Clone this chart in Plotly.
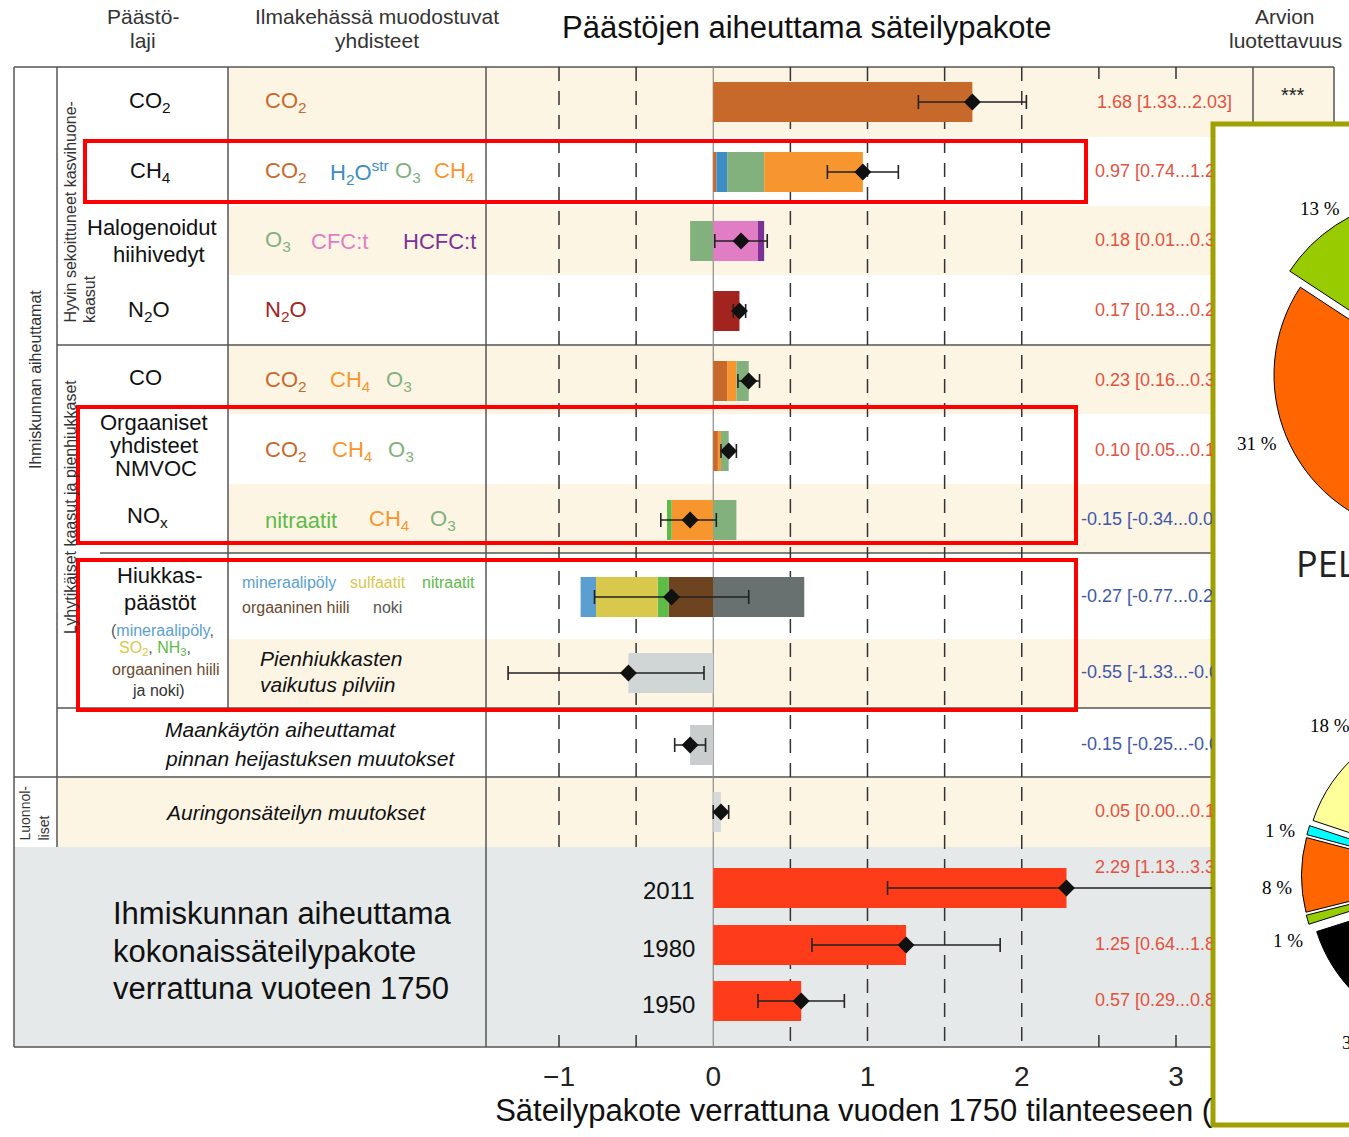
import plotly.graph_objects as go

# ---------------- data ----------------
row_keys = ["CO2", "CH4", "HALO", "N2O", "CO", "NMVOC", "NOX",
            "AEROSOL", "CLOUD", "ALBEDO", "SOLAR", "Y2011", "Y1980", "Y1950"]
forcing_best = [1.68, 0.97, 0.18, 0.17, 0.23, 0.10, -0.15,
                -0.27, -0.55, -0.15, 0.05, 2.29, 1.25, 0.57]
forcing_low = [1.33, 0.74, 0.01, 0.13, 0.16, 0.05, -0.34,
               -0.77, -1.33, -0.25, 0.00, 1.13, 0.64, 0.29]
forcing_high = [2.03, 1.20, 0.35, 0.21, 0.30, 0.15, 0.02,
                0.23, -0.06, -0.05, 0.10, 3.33, 1.86, 0.85]
confidence = ["***"]

# contributions of each compound, listed outward from zero
seg_row = ["CO2",
           "CH4", "CH4", "CH4", "CH4",
           "HALO", "HALO", "HALO",
           "N2O",
           "CO", "CO", "CO",
           "NMVOC", "NMVOC", "NMVOC",
           "NOX", "NOX", "NOX",
           "AEROSOL", "AEROSOL", "AEROSOL", "AEROSOL", "AEROSOL",
           "CLOUD", "ALBEDO", "SOLAR", "Y2011", "Y1980", "Y1950"]
seg_kind = ["co2",
            "co2", "h2o", "o3", "ch4",
            "o3", "cfc", "hcfc",
            "n2o",
            "co2", "ch4", "o3",
            "co2", "ch4", "o3",
            "ch4", "nitrate", "o3",
            "bc", "oc", "nitrate", "sulfate", "dust",
            "cloud", "albedo", "solar", "total", "total", "total"]
seg_value = [1.68,
             0.02, 0.07, 0.24, 0.64,
             -0.15, 0.29, 0.04,
             0.17,
             0.09, 0.06, 0.08,
             0.03, 0.02, 0.05,
             -0.27, -0.03, 0.15,
             0.59, -0.29, -0.07, -0.40, -0.10,
             -0.55, -0.15, 0.05, 2.29, 1.25, 0.57]

year_labels = ["2011", "1980", "1950"]

# pie charts in the inset panel (percent shares)
pie_top_labels = ["vihreä", "oranssi", "muut"]
pie_top_values = [13, 31, 56]
pie_bottom_labels = ["keltainen", "turkoosi", "oranssi", "vihreä", "musta", "muut"]
pie_bottom_values = [18, 1, 8, 1, 33, 39]

# ---------------- styling / geometry ----------------
W, H = 1640, 1137
X0_PX, UNIT_PX = 713.25, 154.25      # pixel of 0 W/m2 and pixels per W/m2
AX_RIGHT = 1212                       # right edge of the forcing plot area
FONT = "Liberation Sans, Arial, sans-serif"
SERIF = "Liberation Serif, Times New Roman, serif"

ROW_Y = dict(CO2=102, CH4=172, HALO=241, N2O=311, CO=381, NMVOC=451, NOX=520,
             AEROSOL=597, CLOUD=673, ALBEDO=745, SOLAR=812,
             Y2011=888, Y1980=945, Y1950=1001)
LABEL_Y = dict(ROW_Y, Y2011=868)

COLORS = dict(co2="#C8692C", h2o="#3C8DC4", o3="#82B17E", ch4="#F7962F",
              cfc="#E17DC4", hcfc="#7D3196", n2o="#A3231F",
              nitrate="#5DBB47", bc="#687170", oc="#6E4420",
              sulfate="#D8C84C", dust="#5A9FD0",
              cloud="#D0D5D6", albedo="#C9CDCD", solar="#D6DADA",
              total="#FF3C1A")
CREAM = "#FDF5E4"
GREY_BG = "#E6E9E9"
LINE = "#555555"
POS_TXT = "#E2533F"
NEG_TXT = "#4058A8"


def vx(p):
    """pixel x -> forcing value"""
    return (p - X0_PX) / UNIT_PX


def px(p):
    return p / W


def py(p):
    return 1 - p / H


# ---------------- stacked bars ----------------
pos_end = {k: 0.0 for k in row_keys}
neg_end = {k: 0.0 for k in row_keys}
bar_y, bar_x, bar_base, bar_col = [], [], [], []
for r, k, v in zip(seg_row, seg_kind, seg_value):
    if v >= 0:
        base = pos_end[r]
        pos_end[r] += v
    else:
        base = neg_end[r]
        neg_end[r] += v
    bar_y.append(ROW_Y[r])
    bar_x.append(v)
    bar_base.append(base)
    bar_col.append(COLORS[k])

fig = go.Figure()
fig.add_trace(go.Bar(orientation="h", y=bar_y, x=bar_x, base=bar_base, width=40,
                     marker=dict(color=bar_col, line=dict(width=0)),
                     hoverinfo="skip", showlegend=False))

# best estimates with uncertainty ranges
fig.add_trace(go.Scatter(
    x=forcing_best, y=[ROW_Y[k] for k in row_keys], mode="markers",
    marker=dict(symbol="diamond", size=13, color="#111"),
    error_x=dict(type="data", symmetric=False,
                 array=[h - b for h, b in zip(forcing_high, forcing_best)],
                 arrayminus=[b - l for b, l in zip(forcing_best, forcing_low)],
                 color="#222", thickness=1.6, width=7),
    cliponaxis=True, hoverinfo="skip", showlegend=False))

# numeric value labels on the right
val_text = [f"{b:.2f} [{l:.2f}...{h:.2f}]" for b, l, h in zip(forcing_best, forcing_low, forcing_high)]
val_col = [POS_TXT if b >= 0 else NEG_TXT for b in forcing_best]
val_x = [vx(1095) if b >= 0 else vx(1081) for b in forcing_best]
fig.add_trace(go.Scatter(
    x=val_x[1:], y=[LABEL_Y[k] for k in row_keys[1:]], mode="text",
    text=val_text[1:], textposition="middle right",
    textfont=dict(size=18, color=val_col[1:], family=FONT),
    cliponaxis=True, hoverinfo="skip", showlegend=False))

# axis title (clipped by the inset panel)
fig.add_trace(go.Scatter(
    x=[vx(903)], y=[1113], mode="text",
    text=["Säteilypakote verrattuna vuoden 1750 tilanteeseen (W m<sup>−2</sup>)"],
    textposition="middle center", textfont=dict(size=31, color="#111", family=FONT),
    cliponaxis=True, hoverinfo="skip", showlegend=False))

# ---------------- pies in the inset ----------------
def pie_domain(cx, cy, r, pull):
    half = r * (1 + pull)
    return dict(x=[px(cx - half), px(cx + half)], y=[py(cy + half), py(cy - half)])


fig.add_trace(go.Pie(
    labels=pie_top_labels, values=pie_top_values, sort=False,
    direction="counterclockwise", rotation=-56.7,
    pull=[0.12, 0, 0], textinfo="none", hoverinfo="skip",
    marker=dict(colors=["#99CC00", "#FF6600", "#FFFFFF"], line=dict(color="#000", width=1)),
    domain=pie_domain(1434, 375, 160, 0.12), showlegend=False))
fig.add_trace(go.Pie(
    labels=pie_bottom_labels, values=pie_bottom_values, sort=False,
    direction="counterclockwise", rotation=-71.6,
    pull=[0.07, 0.07, 0.07, 0.07, 0.07, 0], textinfo="none", hoverinfo="skip",
    marker=dict(colors=["#FFFF99", "#00FFFF", "#FF6600", "#99CC00", "#000000", "#FFFFFF"],
                line=dict(color="#000", width=1)),
    domain=pie_domain(1462, 876, 150, 0.07), showlegend=False))

# ---------------- table shapes ----------------
shapes = []


def prect(x0, y0, x1, y1, fill, layer="below", line=None):
    shapes.append(dict(type="rect", xref="paper", yref="paper",
                       x0=px(x0), x1=px(x1), y0=py(y1), y1=py(y0),
                       fillcolor=fill, line=line or dict(width=0), layer=layer))


def pline(x0, y0, x1, y1, color=LINE, width=1.5):
    shapes.append(dict(type="line", xref="paper", yref="paper",
                       x0=px(x0), x1=px(x1), y0=py(y0), y1=py(y1),
                       line=dict(color=color, width=width), layer="below"))


for (x0, y0, x1, y1) in [(228, 67, 1334, 137), (228, 206, 1334, 275), (228, 345, 1334, 414),
                         (228, 484, 1334, 553), (228, 639, 1334, 708), (57, 777, 1334, 847)]:
    prect(x0, y0, x1, y1, CREAM)
prect(14, 847, 1334, 1047, GREY_BG)

for (x0, y0, x1, y1) in [(14, 67, 1334, 67), (57, 345, 1334, 345), (100, 553, 1334, 553),
                         (57, 708, 1334, 708), (14, 777, 1334, 777), (14, 1047, 1334, 1047)]:
    pline(x0, y0, x1, y1)
for (x, y0, y1) in [(14, 67, 1047), (57, 67, 847), (228, 67, 708), (486, 67, 1047),
                    (1253, 67, 1047), (1334, 67, 1047)]:
    pline(x, y0, x, y1)

# inset panel
prect(1213, 124, 1700, 1125, "white", line=dict(color="#A0A000", width=5))

# dashed reference lines and ticks (in data units)
for v in [-1, -0.5, 0.5, 1, 1.5, 2]:
    y_end = 847 if v < 0 else 1047
    shapes.append(dict(type="line", xref="x", yref="y", x0=v, x1=v, y0=67, y1=y_end,
                       line=dict(color="#333", width=1.5, dash="14px,10px"), layer="below"))
for v in [-1, -0.5, 2.5, 3]:
    shapes.append(dict(type="line", xref="x", yref="y", x0=v, x1=v, y0=1035, y1=1047,
                       line=dict(color="#333", width=1.5), layer="below"))
for v in [2.5, 3]:
    shapes.append(dict(type="line", xref="x", yref="y", x0=v, x1=v, y0=67, y1=79,
                       line=dict(color="#333", width=1.5), layer="below"))
shapes.append(dict(type="line", xref="x", yref="y", x0=0, x1=0, y0=67, y1=1047,
                   line=dict(color="#8A8A8A", width=1.2), layer="below"))

# highlight frames
for (x0, y0, x1, y1) in [(85, 141, 1086, 202), (78, 407, 1076, 543), (78, 560, 1076, 710)]:
    prect(x0, y0, x1, y1, "rgba(0,0,0,0)", layer="above", line=dict(color="#FF0000", width=4))

# ---------------- text ----------------
ann = []


def label(x, y, text, size=22, color="#111", xanchor="center", yanchor="middle",
          angle=0, family=FONT):
    ann.append(dict(x=px(x), y=py(y), xref="paper", yref="paper", text=text,
                    showarrow=False, xanchor=xanchor, yanchor=yanchor, textangle=angle,
                    font=dict(size=size, color=color, family=family)))


# column headers
label(143, 17, "Päästö-", 21, "#333"); label(143, 41, "laji", 21, "#333")
label(377, 17, "Ilmakehässä muodostuvat", 21, "#333"); label(377, 41, "yhdisteet", 21, "#333")
label(806, 27, "Päästöjen aiheuttama säteilypakote", 31, "#111")
label(1285, 17, "Arvion", 21, "#333"); label(1285, 41, "luotettavuus", 21, "#333")
label(1293, 95, confidence[0], 20, "#222")

# emitted compound
label(150, 102, "CO<sub>2</sub>"); label(150, 172, "CH<sub>4</sub>")
label(152, 227, "Halogenoidut"); label(159, 254, "hiihivedyt")
label(149, 311, "N<sub>2</sub>O"); label(145, 377, "CO")
label(154, 422, "Orgaaniset"); label(154, 445, "yhdisteet"); label(156, 469, "NMVOC")
label(147, 517, "NO<sub>x</sub>")
label(160, 575, "Hiukkas-"); label(160, 602, "päästöt")
label(162, 630, f"(<span style='color:{COLORS['dust']}'>mineraalipöly</span>,", 16, "#555")
label(155, 648, f"<span style='color:{COLORS['sulfate']}'>SO<sub>2</sub></span>, "
                f"<span style='color:{COLORS['nitrate']}'>NH<sub>3</sub></span>,", 16, "#555")
label(166, 669, "orgaaninen hiili", 16, "#6B4A2E")
label(158, 690, "ja noki)", 16, "#333")

# compounds formed in the atmosphere
CO2T, CH4T, O3T = "CO<sub>2</sub>", "CH<sub>4</sub>", "O<sub>3</sub>"
for x, y, t, c in [
    (263, 102, CO2T, COLORS["co2"]),
    (263, 172, CO2T, COLORS["co2"]), (328, 172, "H<sub>2</sub>O<sup>str</sup>", COLORS["h2o"]),
    (393, 172, O3T, COLORS["o3"]), (432, 172, CH4T, COLORS["ch4"]),
    (263, 241, O3T, COLORS["o3"]), (309, 241, "CFC:t", COLORS["cfc"]), (401, 241, "HCFC:t", COLORS["hcfc"]),
    (263, 311, "N<sub>2</sub>O", COLORS["n2o"]),
    (263, 381, CO2T, COLORS["co2"]), (328, 381, CH4T, COLORS["ch4"]), (384, 381, O3T, COLORS["o3"]),
    (263, 451, CO2T, COLORS["co2"]), (330, 451, CH4T, COLORS["ch4"]), (386, 451, O3T, COLORS["o3"]),
    (263, 520, "nitraatit", COLORS["nitrate"]), (367, 520, CH4T, COLORS["ch4"]), (428, 520, O3T, COLORS["o3"]),
]:
    label(x, y, t, 22, c, xanchor="left")
for x, y, t, c in [(240, 582, "mineraalipöly", COLORS["dust"]), (348, 582, "sulfaatit", COLORS["sulfate"]),
                   (420, 582, "nitraatit", COLORS["nitrate"]), (240, 607, "orgaaninen hiili", "#6B4A2E"),
                   (371, 607, "noki", "#555")]:
    label(x, y, t, 16, c, xanchor="left")
label(258, 658, "<i>Pienhiukkasten</i>", 21, xanchor="left")
label(258, 685, "<i>vaikutus pilviin</i>", 21, xanchor="left")
label(163, 730, "<i>Maankäytön aiheuttamat</i>", 21, xanchor="left")
label(163, 758, "<i>pinnan heijastuksen muutokset</i>", 21, xanchor="left")
label(163, 812, "<i>Auringonsäteilyn muutokset</i>", 21, xanchor="left")
label(111, 913, "Ihmiskunnan aiheuttama", 31, xanchor="left")
label(111, 951, "kokonaissäteilypakote", 31, xanchor="left")
label(111, 988, "verrattuna vuoteen 1750", 31, xanchor="left")
for yr, key in zip(year_labels, ["Y2011", "Y1980", "Y1950"]):
    label(697, ROW_Y[key] + 3, yr, 24, xanchor="right")

# rotated group labels
label(35, 380, "Ihmiskunnan aiheuttamat", 16, "#333", angle=-90)
label(70, 325, "Hyvin sekoittuneet kasvihuone-", 16, "#333", yanchor="bottom", angle=-90)
label(90, 325, "kaasut", 16, "#333", yanchor="bottom", angle=-90)
label(70, 636, "Lyhytikäiset kaasut ja pienhiukkaset", 16, "#333", yanchor="bottom", angle=-90)
label(24, 843, "Luonnol-", 14, "#333", yanchor="bottom", angle=-90)
label(43, 843, "liset", 14, "#333", yanchor="bottom", angle=-90)

# first value label sits above the inset panel
label(1095, 102, val_text[0], 18, val_col[0], xanchor="left")

# inset pie labels
for x, y, v in [(1320, 208, pie_top_values[0]), (1257, 443, pie_top_values[1]),
                (1330, 725, pie_bottom_values[0]), (1280, 830, pie_bottom_values[1]),
                (1277, 887, pie_bottom_values[2]), (1288, 940, pie_bottom_values[3])]:
    label(x, y, f"{v} %", 19, "#000", family=SERIF)
label(1340, 1042, f"{pie_bottom_values[4]} %", 19, "#000", xanchor="left", family=SERIF)
label(1294, 563, "PELTO", 36, "#222", xanchor="left", family="Open Sans, DejaVu Sans, sans-serif")

fig.update_layout(
    width=W, height=H, margin=dict(l=0, r=0, t=0, b=0),
    paper_bgcolor="white", plot_bgcolor="rgba(0,0,0,0)",
    font=dict(family=FONT, color="#111"),
    shapes=shapes, annotations=ann, showlegend=False, hovermode=False,
    barmode="overlay",
    xaxis=dict(domain=[0, px(AX_RIGHT)], range=[vx(0), vx(AX_RIGHT)],
               anchor="free", position=py(1047),
               tickvals=[-1, 0, 1, 2, 3], ticktext=["−1", "0", "1", "2", "3"],
               tickfont=dict(size=28, color="#222", family=FONT),
               ticks="", ticklabelstandoff=10,
               showgrid=False, zeroline=False, showline=False, fixedrange=True),
    yaxis=dict(domain=[0, 1], range=[H, 0], visible=False, fixedrange=True),
)

fig.write_html("out.html", post_script=(
    "document.documentElement.style.overflow='hidden';"
    "document.body.style.overflow='hidden';document.body.style.margin='0';"))
